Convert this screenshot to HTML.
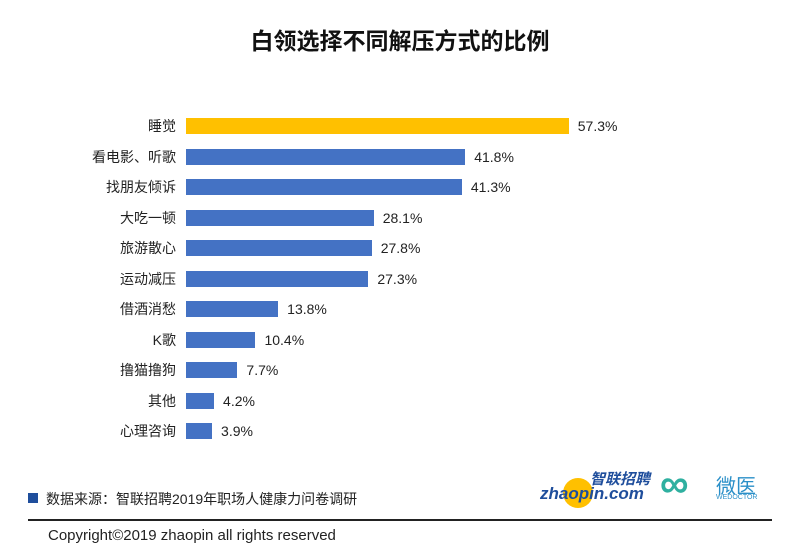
<!DOCTYPE html>
<html><head><meta charset="utf-8"><style>
body{margin:0;width:800px;height:551px;background:#fff;position:relative;overflow:hidden;font-family:"Liberation Sans","Noto Sans CJK SC",sans-serif;}
.t{position:absolute;top:22px;left:0;width:800px;text-align:center;font-size:23px;font-weight:bold;color:#111;}
.lab{position:absolute;right:624px;font-size:14px;color:#222;text-align:right;white-space:nowrap;line-height:16px;}
.bar{position:absolute;left:186px;height:16px;background:#4472c4;}
.val{position:absolute;font-size:14px;color:#222;line-height:16px;}
</style></head><body>
<div class="t">白领选择不同解压方式的比例</div>
<div id="c"></div>
<script>
var d=[["睡觉",57.3],["看电影、听歌",41.8],["找朋友倾诉",41.3],["大吃一顿",28.1],["旅游散心",27.8],["运动减压",27.3],["借酒消愁",13.8],["K歌",10.4],["撸猫撸狗",7.7],["其他",4.2],["心理咨询",3.9]];
var h="";d.forEach(function(r,i){var y=118+i*30.5;var w=r[1]*6.68;
h+='<div class="lab" style="top:'+y+'px">'+r[0]+'</div><div class="bar" style="top:'+y+'px;width:'+w+'px;background:'+(i==0?'#ffc000':'#4472c4')+'"></div><div class="val" style="top:'+y+'px;left:'+(186+w+9)+'px">'+r[1].toFixed(1)+'%</div>';});
document.getElementById("c").innerHTML=h;
</script>
<div style="position:absolute;left:28px;top:493px;width:10px;height:10px;background:#1f4e9c"></div>
<div style="position:absolute;left:46px;top:489px;font-size:14px;color:#222">数据来源：智联招聘2019年职场人健康力问卷调研</div>
<div style="position:absolute;left:563px;top:478px;width:30px;height:30px;border-radius:50%;background:#ffc000"></div>
<div style="position:absolute;left:540px;top:484px;font-size:17px;font-weight:bold;font-style:italic;color:#1f4e9c">zhaopin.com</div>
<div style="position:absolute;left:590px;top:468px;font-size:15px;font-weight:bold;font-style:italic;color:#1f4e9c">智联招聘</div>
<div style="position:absolute;left:660px;top:462px;font-size:40px;line-height:44px;font-weight:bold;color:#2fb0a0">∞</div>
<div style="position:absolute;left:716px;top:470px;font-size:20px;color:#2a8fc8">微医</div>
<div style="position:absolute;left:716px;top:494px;font-size:7px;color:#2a8fc8">WEDOCTOR</div>
<div style="position:absolute;left:28px;top:519px;width:744px;height:2px;background:#222"></div>
<div style="position:absolute;left:48px;top:527px;font-size:15px;color:#222">Copyright©2019 zhaopin all rights reserved</div>
</body></html>
